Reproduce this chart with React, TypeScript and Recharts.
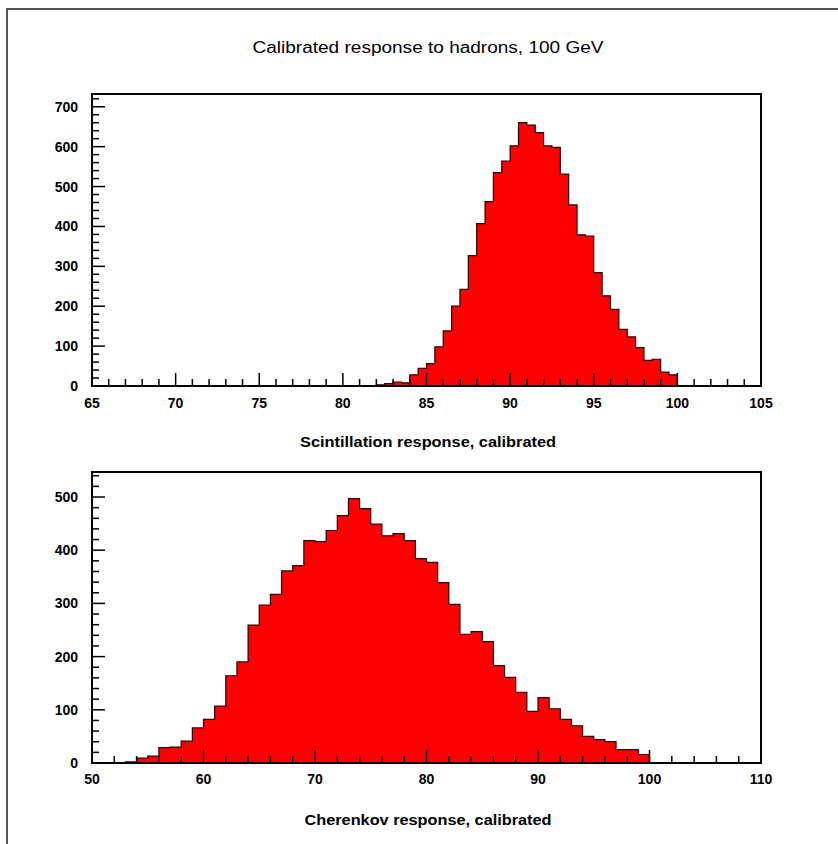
import { AreaChart, Area, XAxis, YAxis, ReferenceArea } from 'recharts'

// Scintillation histogram: 0.5 GeV bins starting at 82
const SCINT_START = 82
const SCINT_BIN = 0.5
const scintCounts = [
  3, 6, 10, 8, 28, 44, 56, 98, 138, 200, 242, 327, 407, 462, 535, 564, 602, 660,
  654, 635, 602, 598, 531, 454, 379, 376, 284, 226, 192, 142, 123, 96, 64, 67, 35, 28,
]
const scintXMajor = [65, 70, 75, 80, 85, 90, 95, 100, 105]
const scintYMajor = [0, 100, 200, 300, 400, 500, 600, 700]

// Cherenkov histogram: 1 GeV bins starting at 53
const CHER_START = 53
const CHER_BIN = 1
const cherCounts = [
  2, 9, 13, 29, 30, 41, 66, 82, 107, 164, 190, 259, 297, 317, 361, 371, 418, 416,
  437, 465, 497, 478, 449, 427, 431, 418, 384, 377, 339, 298, 242, 247, 228, 183,
  161, 133, 97, 123, 102, 82, 70, 50, 44, 40, 25, 25, 16,
]
const cherXMajor = [50, 60, 70, 80, 90, 100, 110]
const cherYMajor = [0, 100, 200, 300, 400, 500]

const FONT = '"Liberation Sans", Arial, sans-serif'
const RED = '#ff0000'
const EDGE = '#2a0000'

function toSteps(start: number, width: number, counts: number[]) {
  const pts = [{ x: start, y: 0 }]
  counts.forEach((c, i) => pts.push({ x: start + i * width, y: c }))
  pts.push({ x: start + counts.length * width, y: 0 })
  return pts
}

function range(from: number, to: number, step: number) {
  const out: number[] = []
  for (let v = from; v <= to + 1e-9; v += step) out.push(Math.round(v * 100) / 100)
  return out
}

const XTick = (majors: number[], dy: number) => (props: any) => {
  const { x, y, payload } = props
  const major = majors.includes(payload.value)
  return (
    <g>
      <line x1={x} x2={x} y1={y} y2={y - (major ? 13 : 7)} stroke="#000" strokeWidth={1.5} />
      {major && (
        <text x={x} y={y + dy} textAnchor="middle" fontFamily={FONT} fontWeight={700} fontSize={14} fill="#000">
          {payload.value}
        </text>
      )}
    </g>
  )
}

const YTick = (majors: number[]) => (props: any) => {
  const { x, y, payload } = props
  const major = majors.includes(payload.value)
  return (
    <g>
      <line x1={x} x2={x + (major ? 13 : 7)} y1={y} y2={y} stroke="#000" strokeWidth={1.5} />
      {major && (
        <text x={x - 14} y={y} dy="0.36em" textAnchor="end" fontFamily={FONT} fontWeight={700} fontSize={14} fill="#000">
          {payload.value}
        </text>
      )}
    </g>
  )
}

interface HistProps {
  data: { x: number; y: number }[]
  xDomain: [number, number]
  yMax: number
  xTicks: number[]
  yTicks: number[]
  xMajor: number[]
  yMajor: number[]
  height: number
  margin: { top: number; right: number; bottom: number; left: number }
  labelDy: number
}

function Histogram({ data, xDomain, yMax, xTicks, yTicks, xMajor, yMajor, height, margin, labelDy }: HistProps) {
  const axes = (withTicks: boolean) => [
    <XAxis
      key="x"
      dataKey="x"
      type="number"
      domain={xDomain}
      allowDataOverflow
      ticks={xTicks}
      interval={0}
      height={30}
      axisLine={false}
      tickLine={false}
      tickSize={0}
      tickMargin={0}
      tick={withTicks ? XTick(xMajor, labelDy) : false}
    />,
    <YAxis
      key="y"
      type="number"
      domain={[0, yMax]}
      allowDataOverflow
      ticks={yTicks}
      interval={0}
      width={40}
      axisLine={false}
      tickLine={false}
      tickSize={0}
      tickMargin={0}
      tick={withTicks ? YTick(yMajor) : false}
    />,
  ]

  return (
    <div style={{ position: 'relative', width: 838, height }}>
      <div style={{ position: 'absolute', left: 0, top: 0 }}>
        <AreaChart width={838} height={height} data={data} margin={margin}>
          <Area
            type="stepAfter"
            dataKey="y"
            stroke={EDGE}
            strokeWidth={1.2}
            fill={RED}
            fillOpacity={1}
            isAnimationActive={false}
            dot={false}
            activeDot={false}
          />
          {axes(false)}
        </AreaChart>
      </div>
      {/* axes and frame drawn on top so ticks show over the red fill */}
      <div style={{ position: 'absolute', left: 0, top: 0 }}>
        <AreaChart width={838} height={height} data={data} margin={margin}>
          <Area type="stepAfter" dataKey="y" stroke="none" fill="none" isAnimationActive={false} dot={false} activeDot={false} />
          <ReferenceArea x1={xDomain[0]} x2={xDomain[1]} y1={0} y2={yMax} fill="none" stroke="#000" strokeWidth={2} />
          {axes(true)}
        </AreaChart>
      </div>
    </div>
  )
}

export default function App() {
  const scintData = toSteps(SCINT_START, SCINT_BIN, scintCounts)
  const cherData = toSteps(CHER_START, CHER_BIN, cherCounts)

  return (
    <div style={{ position: 'absolute', left: 0, top: 0, width: 838, height: 844, background: '#fff', overflow: 'hidden' }}>
      <div style={{ position: 'absolute', left: 6, top: 8, width: 840, height: 2, background: '#555' }} />
      <div style={{ position: 'absolute', left: 6, top: 8, width: 2, height: 840, background: '#555' }} />

      <div style={{ position: 'absolute', left: 0, top: 0 }}>
        <Histogram
          data={scintData}
          xDomain={[65, 105]}
          yMax={732}
          xTicks={range(65, 105, 1)}
          yTicks={range(0, 720, 20)}
          xMajor={scintXMajor}
          yMajor={scintYMajor}
          height={430}
          margin={{ top: 94, right: 77, bottom: 14, left: 52 }}
          labelDy={22}
        />
      </div>

      <div style={{ position: 'absolute', left: 0, top: 430 }}>
        <Histogram
          data={cherData}
          xDomain={[50, 110]}
          yMax={547}
          xTicks={range(50, 110, 2)}
          yTicks={range(0, 540, 20)}
          xMajor={cherXMajor}
          yMajor={cherYMajor}
          height={414}
          margin={{ top: 42, right: 77, bottom: 51, left: 52 }}
          labelDy={21}
        />
      </div>

      <svg width={838} height={844} style={{ position: 'absolute', left: 0, top: 0, pointerEvents: 'none' }}>
        <text x={428} y={53} textAnchor="middle" fontFamily={FONT} fontSize={16} fill="#000" textLength={351} lengthAdjust="spacingAndGlyphs">
          Calibrated response to hadrons, 100 GeV
        </text>
        <text x={428} y={447} textAnchor="middle" fontFamily={FONT} fontWeight={700} fontSize={14} fill="#000" textLength={256} lengthAdjust="spacingAndGlyphs">
          Scintillation response, calibrated
        </text>
        <text x={428} y={825} textAnchor="middle" fontFamily={FONT} fontWeight={700} fontSize={14} fill="#000" textLength={247} lengthAdjust="spacingAndGlyphs">
          Cherenkov response, calibrated
        </text>
      </svg>
    </div>
  )
}
